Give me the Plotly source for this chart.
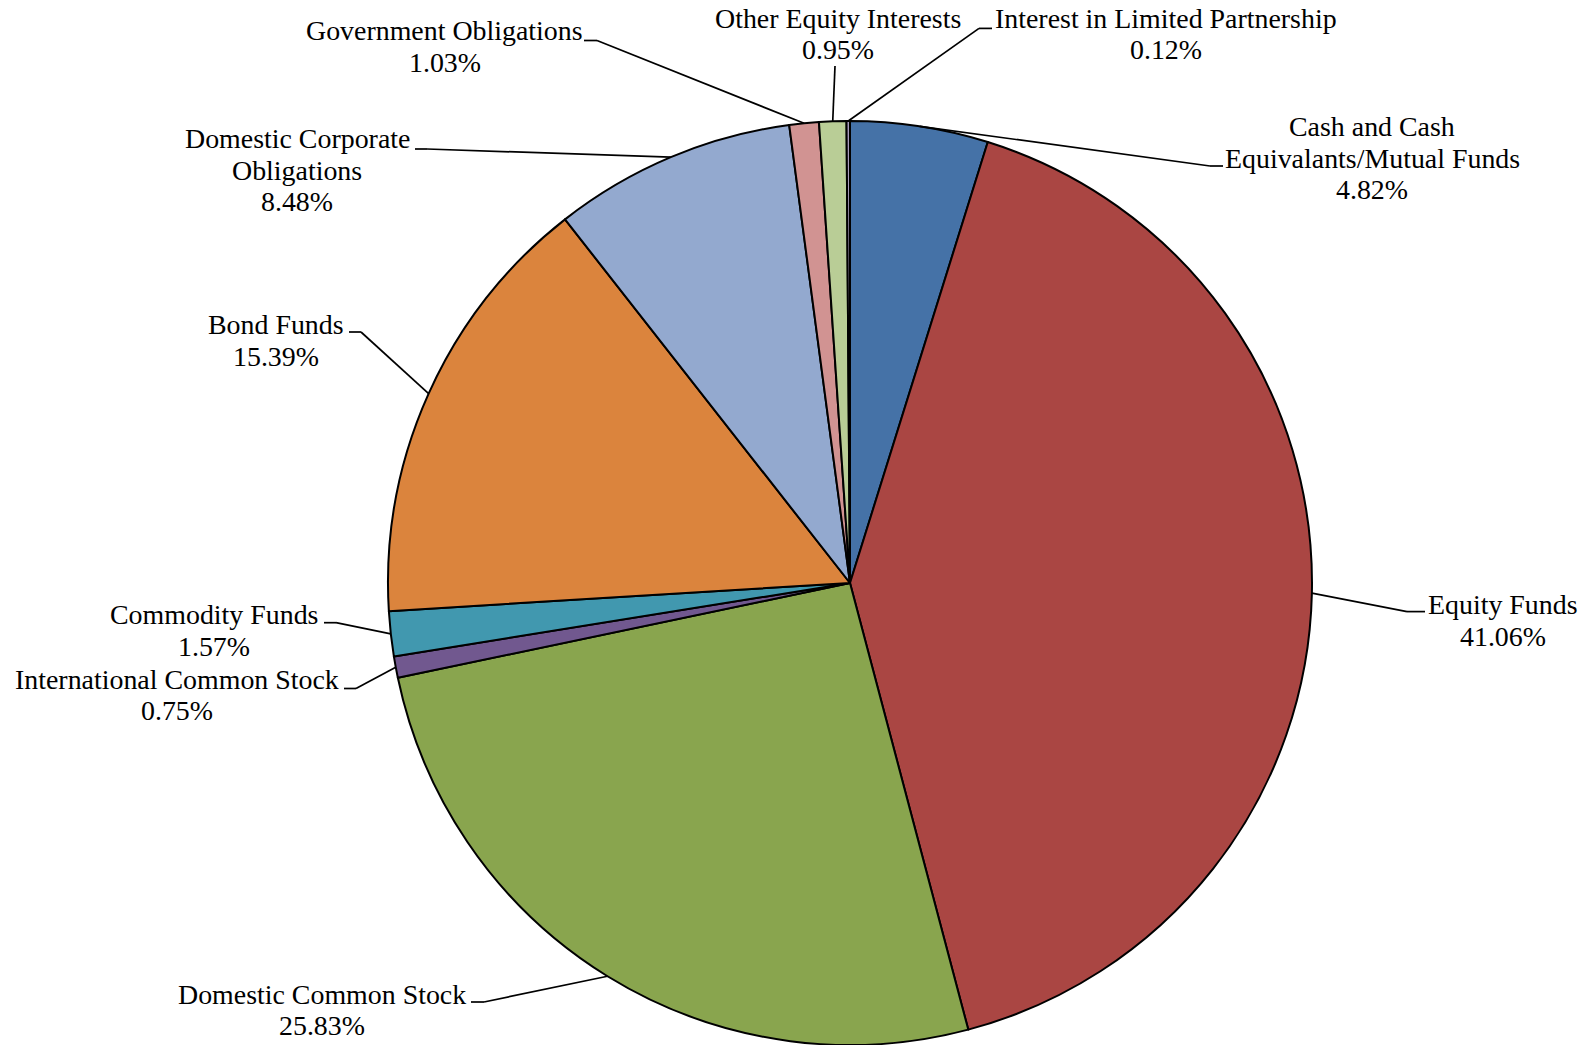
import math
import plotly.graph_objects as go

# ---------------- data ----------------
categories = [
    "Cash and Cash Equivalants/Mutual Funds",
    "Equity Funds",
    "Domestic Common Stock",
    "International Common Stock",
    "Commodity Funds",
    "Bond Funds",
    "Domestic Corporate Obligations",
    "Government Obligations",
    "Other Equity Interests",
    "Interest in Limited Partnership",
]
values = [4.82, 41.06, 25.83, 0.75, 1.57, 15.39, 8.48, 1.03, 0.95, 0.12]
label_lines = [
    ["Cash and Cash", "Equivalants/Mutual Funds"],
    ["Equity Funds"],
    ["Domestic Common Stock"],
    ["International Common Stock"],
    ["Commodity Funds"],
    ["Bond Funds"],
    ["Domestic Corporate", "Obligations"],
    ["Government Obligations"],
    ["Other Equity Interests"],
    ["Interest in Limited Partnership"],
]
colors = ["#4572A7", "#AA4643", "#89A54E", "#71588F", "#4198AF",
          "#DB843D", "#93A9CF", "#D19392", "#B9CD96", "#A99BBD"]

# ---------------- layout (pixels) ----------------
W, H = 1587, 1045
CX, CY, R = 850, 583, 462

# label placement: text centre x, first line centre y, hook (text-side end), elbow
label_pos = [
    dict(x=1372, y=126.5, hook=(1223, 166), elbow=(1210, 166)),
    dict(x=1503, y=604.5, hook=(1425, 611.6), elbow=(1407, 611.6)),
    dict(x=322, y=994, hook=(471, 1002), elbow=(484, 1002)),
    dict(x=177, y=679, hook=(344, 688.5), elbow=(356, 688.5)),
    dict(x=214, y=614.5, hook=(324, 622.7), elbow=(336, 622.7)),
    dict(x=276, y=325, hook=(349, 332), elbow=(361, 332)),
    dict(x=297, y=138.7, hook=(415, 149), elbow=(427, 149)),
    dict(x=445, y=30.4, hook=(584, 40.5), elbow=(597, 40.5)),
    dict(x=838, y=18.2, hook=(835, 66), elbow=(835, 66)),
    dict(x=1166, y=18.2, hook=(992, 28.4), elbow=(979, 28.4)),
]
LINE_GAP = 31.6
FONT = dict(family="Liberation Serif, Times New Roman, serif", size=27.9, color="#000000")


def px(x):
    return x / W


def py(y):
    return 1 - y / H


fig = go.Figure()
fig.add_trace(go.Pie(
    labels=categories,
    values=values,
    sort=False,
    direction="clockwise",
    rotation=0,
    textinfo="none",
    hoverinfo="label+percent",
    marker=dict(colors=colors, line=dict(color="#000000", width=2)),
    domain=dict(x=[(CX - R) / W, (CX + R) / W], y=[(H - CY - R) / H, (H - CY + R) / H]),
    showlegend=False,
))

annotations = []
shapes = []
total = sum(values)
cum = 0.0
for i, v in enumerate(values):
    mid = (cum + v / 2) / total * 360.0
    cum += v
    ex = CX + R * math.sin(math.radians(mid))
    ey = CY - R * math.cos(math.radians(mid))
    lp = label_pos[i]
    texts = label_lines[i] + ["%.2f%%" % (v / total * 100)]
    for k, t in enumerate(texts):
        annotations.append(dict(
            x=px(lp["x"]), y=py(lp["y"] + k * LINE_GAP), xref="paper", yref="paper",
            text=t, showarrow=False, xanchor="center", yanchor="middle", font=FONT,
        ))
    hx, hy = lp["hook"]
    bx, by = lp["elbow"]
    shapes.append(dict(type="line", xref="paper", yref="paper",
                       x0=px(ex), y0=py(ey), x1=px(bx), y1=py(by),
                       line=dict(color="#000000", width=1.7)))
    if (hx, hy) != (bx, by):
        shapes.append(dict(type="line", xref="paper", yref="paper",
                           x0=px(bx), y0=py(by), x1=px(hx), y1=py(hy),
                           line=dict(color="#000000", width=1.7)))

fig.update_layout(
    width=W, height=H,
    margin=dict(l=0, r=0, t=0, b=0),
    paper_bgcolor="#FFFFFF",
    plot_bgcolor="#FFFFFF",
    annotations=annotations,
    shapes=shapes,
)

fig.write_html(
    "out.html",
    config={"displayModeBar": False},
    post_script="document.body.style.margin='0';document.body.style.overflow='hidden';",
)
